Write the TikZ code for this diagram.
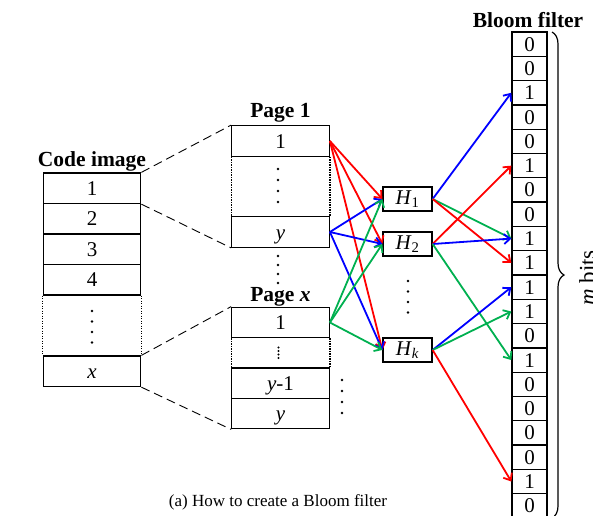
\documentclass[tikz,border=0pt]{standalone}
\usepackage{fontspec}
\setmainfont{Liberation Serif}
\usetikzlibrary{arrows.meta,decorations.pathreplacing}
\definecolor{hred}{RGB}{255,0,0}
\definecolor{hblue}{RGB}{0,0,255}
\definecolor{hgreen}{RGB}{0,176,80}

\begin{document}
\begin{tikzpicture}[x=1pt,y=-1pt,
  cell/.style={draw, line width=1.3pt, inner sep=0pt, minimum width=97.5pt,
    minimum height=30.5pt, font=\fontsize{21}{21}\selectfont,
    text height=14pt, text depth=0pt},
  bit/.style={draw, line width=1.3pt, inner sep=0pt, minimum width=35pt,
    minimum height=24.3pt, font=\fontsize{21}{21}\selectfont,
    text height=14pt, text depth=0pt},
  hbox/.style={draw, line width=1.3pt, inner sep=0pt, minimum width=49pt,
    minimum height=24pt, font=\fontsize{21}{21}\selectfont},
  title/.style={font=\fontsize{21.5}{21.5}\selectfont\bfseries, anchor=base, inner sep=0pt},
  zoomline/.style={line width=0.9pt, dash pattern=on 9pt off 5pt},
  gapline/.style={line width=1.2pt, dash pattern=on 1.2pt off 1.3pt},
  hash/.style={-{Straight Barb[length=6pt,width=10pt]}, line width=1.8pt},
  vdots/.style={fill=black}
]
\clip (0,0) rectangle (593,515);

% ---- code image ----
\node[title] (tcode) at (92,166) {Code image};
\node[cell] (c1) at (92,188.25) {1};
\node[cell] (c2) at (92,218.75) {2};
\node[cell] (c3) at (92,249.25) {3};
\node[cell] (c4) at (92,279.75) {4};
\node[cell] (cx) at (92,371.25) {\textit{x}};
\draw[gapline] (c4.south west) -- (cx.north west);
\draw[gapline] (c4.south east) -- (cx.north east);
\foreach \y in {311,321.5,332,342.5} \fill[vdots] (92,\y) circle (1.3);

% ---- page 1 ----
\node[title] (tp1) at (280.5,117) {Page 1};
\node[cell] (p1a) at (280.5,141) {1};
\node[cell] (p1y) at (280.5,232) {\textit{y}};
\draw[gapline] (p1a.south west) -- (p1y.north west);
\draw[gapline] (p1a.south east) -- (p1y.north east);
\foreach \y in {169,180,191,202} \fill[vdots] (278,\y) circle (1.3);

% dots between the pages
\foreach \y in {256,265,274,283} \fill[vdots] (278,\y) circle (1.3);

% ---- page x ----
\node[title] (tpx) at (280.5,301) {Page \textit{x}};
\node[cell] (pxa) at (280.5,322.5) {1};
\node[cell] (pxb) at (280.5,383.25) {\textit{y}-1};
\node[cell] (pxy) at (280.5,413.5) {\textit{y}};
\draw[gapline] (pxa.south west) -- (pxb.north west);
\draw[gapline] (pxa.south east) -- (pxb.north east);
\foreach \y in {347.5,351,354.5,358} \fill[vdots] (278.5,\y) circle (1.15);
\foreach \y in {380,391,402,413} \fill[vdots] (342,\y) circle (1.3);

% ---- zoom lines ----
\draw[zoomline] (c1.north east) -- (p1a.north west);
\draw[zoomline] (c1.south east) -- (p1y.south west);
\draw[zoomline] (cx.north east) -- (pxa.north west);
\draw[zoomline] (cx.south east) -- (pxy.south west);

% ---- hash functions ----
\node[hbox] (h1) at (407.5,199) {\textit{H}\textsubscript{1}};
\node[hbox] (h2) at (407.5,244) {\textit{H}\textsubscript{2}};
\node[hbox] (hk) at (407.5,350) {\textit{H}\textsubscript{\textit{k}}};
\foreach \y in {281,291.5,302,312.5} \fill[vdots] (408,\y) circle (1.3);

% ---- bloom filter ----
\node[title] (tbf) at (528,27) {Bloom filter};
\foreach \v [count=\i from 0] in {0,0,1,0,0,1,0,0,1,1,1,1,0,1,0,0,0,0,1,0}
  \node[bit] (b\i) at (529.5,{44.15+24.3*\i}) {\v};
\draw[line width=1.2pt, decorate, decoration={brace, amplitude=12pt}]
  (552,32) -- (552,518);
\node[rotate=90, anchor=north, inner sep=0pt, font=\fontsize{23}{23}\selectfont]
  (mbits) at (579,278) {\textit{m} bits};

% ---- items into hash functions ----
\foreach \t in {h1,h2,hk} \draw[hash, hred] (p1a.east) -- (\t.west);
\foreach \t in {h1,h2,hk} \draw[hash, hblue] (p1y.east) -- (\t.west);
\foreach \t in {h1,h2,hk} \draw[hash, hgreen] (pxa.east) -- (\t.west);

% ---- hash functions into bits ----
\draw[hash, hblue]  (h1.east) -- (b2.west);
\draw[hash, hgreen] (h1.east) -- (b8.west);
\draw[hash, hred]   (h1.east) -- (b9.west);
\draw[hash, hred]   (h2.east) -- (b5.west);
\draw[hash, hblue]  (h2.east) -- (b8.west);
\draw[hash, hgreen] (h2.east) -- (b13.west);
\draw[hash, hblue]  (hk.east) -- (b10.west);
\draw[hash, hgreen] (hk.east) -- (b11.west);
\draw[hash, hred]   (hk.east) -- (b18.west);

% ---- caption ----
\node[anchor=base, inner sep=0pt, font=\fontsize{17}{17}\selectfont]
  (cap) at (278,506) {(a) How to create a Bloom filter};
\end{tikzpicture}
\end{document}
